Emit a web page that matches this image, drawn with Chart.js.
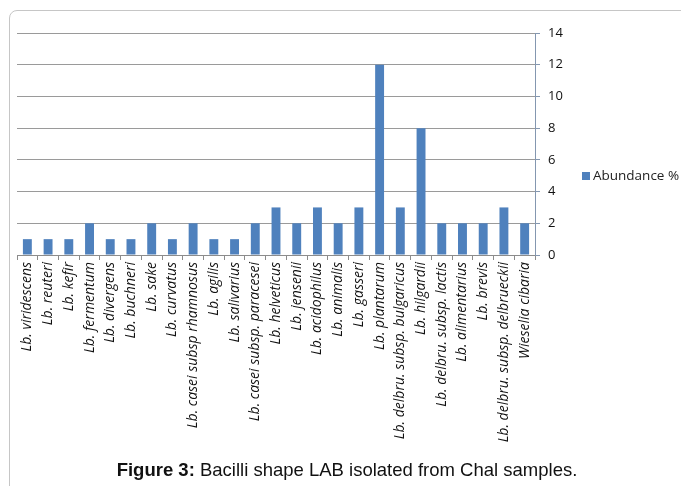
<!DOCTYPE html>
<html>
<head>
<meta charset="utf-8">
<script src="https://cdn.jsdelivr.net/npm/chart.js@4/dist/chart.umd.min.js"></script>
<style>
  html, body { margin: 0; padding: 0; background: #fff; }
  #wrap { position: relative; width: 681px; height: 486px; overflow: hidden; }
  #frame { position: absolute; left: 9px; top: 10px; width: 700px; height: 500px;
           border: 1px solid #c6c6c6; border-radius: 8px; box-sizing: border-box; }
  #chart { position: absolute; left: 0; top: 0; }
  #caption { position: absolute; left: 0; width: 694px; top: 459px; text-align: center;
             font-family: "Liberation Sans", Arial, sans-serif; font-size: 18.5px; color: #111; }
</style>
</head>
<body>
<div id="wrap">
  <div id="frame"></div>
  <canvas id="chart" width="681" height="486"></canvas>
  <div id="caption"><b>Figure 3:</b> Bacilli shape LAB isolated from Chal samples.</div>
</div>
<script>
// Bacilli isolates and their relative abundance (%)
const species = [
  "Lb. viridescens", "Lb. reuteri", "Lb. kefir", "Lb. fermentum", "Lb. divergens",
  "Lb. buchneri", "Lb. sake", "Lb. curvatus", "Lb. casei subsp rhamnosus", "Lb. agilis",
  "Lb. salivarius", "Lb. casei subsp. paracesei", "Lb. helveticus", "Lb. jensenii",
  "Lb. acidophilus", "Lb. animalis", "Lb. gasseri", "Lb. plantarum",
  "Lb. delbru. subsp. bulgaricus", "Lb. hilgardii", "Lb. delbru. subsp. lactis",
  "Lb. alimentarius", "Lb. brevis", "Lb. delbru. subsp. delbrueckii", "Wieselia cibaria"
];
const abundance = [1, 1, 1, 2, 1, 1, 2, 1, 2, 1, 1, 2, 3, 2, 3, 2, 3, 12, 3, 8, 2, 2, 2, 3, 2];
const seriesName = "Abundance %";
const yTicks = [0, 2, 4, 6, 8, 10, 12, 14];

const barColor = "#4F81BD";

// Legend drawn beside the value axis
const sideLegend = {
  id: "sideLegend",
  afterDraw(chart) {
    const ctx = chart.ctx;
    const ds = chart.data.datasets[0];
    ctx.save();
    ctx.fillStyle = ds.backgroundColor;
    ctx.fillRect(582, 172, 8, 8);
    ctx.fillStyle = "#222";
    ctx.font = '13.5px "Open Sans", sans-serif';
    ctx.textBaseline = "middle";
    ctx.textAlign = "left";
    ctx.fillText(ds.label, 593, 176);
    ctx.restore();
  }
};

new Chart(document.getElementById("chart"), {
  type: "bar",
  data: {
    labels: species,
    datasets: [{
      label: seriesName,
      data: abundance,
      backgroundColor: barColor,
      barPercentage: 0.43,
      categoryPercentage: 1.0
    }]
  },
  options: {
    responsive: false,
    animation: false,
    layout: { padding: { left: 17, right: 116, top: 33, bottom: 31 } },
    plugins: { legend: { display: false }, tooltip: { enabled: false } },
    scales: {
      x: {
        offset: true,
        grid: { offset: true, drawOnChartArea: false, color: "#8c8c8c", tickLength: 5 },
        border: { color: "#8c8c8c" },
        ticks: {
          autoSkip: false, minRotation: 90, maxRotation: 90, padding: 2,
          color: "#111",
          font: { family: "Open Sans", style: "italic", size: 14 }
        },
        afterFit(scale) { scale.height = 200; }
      },
      y: {
        position: "right",
        min: 0, max: 14,
        afterBuildTicks(scale) { scale.ticks = yTicks.map(v => ({ value: v })); },
        grid: { color: "#9a9a9a", tickColor: "#8497B0", tickLength: 5 },
        border: { color: "#8497B0" },
        ticks: {
          padding: 8, color: "#111",
          font: { family: "Open Sans", size: 13 }
        },
        afterFit(scale) { scale.width = 30; }
      }
    }
  },
  plugins: [sideLegend]
});
</script>
</body>
</html>
